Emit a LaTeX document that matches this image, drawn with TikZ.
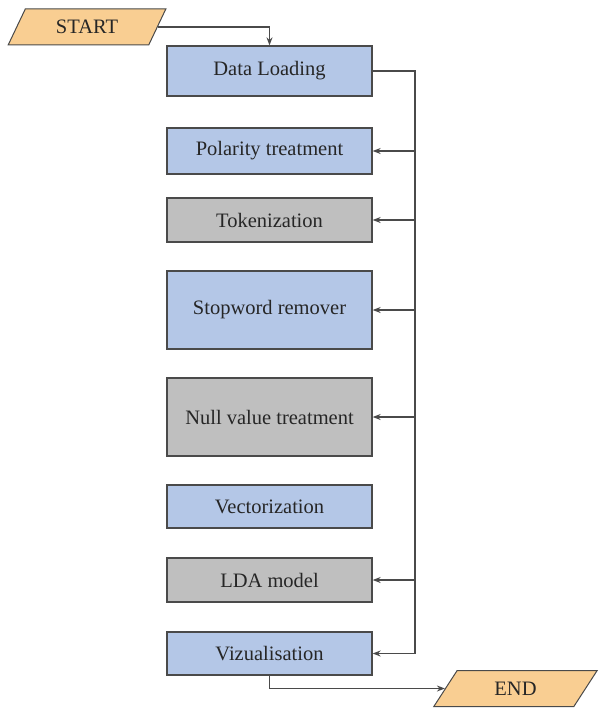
\documentclass[tikz,border=0pt]{standalone}
\usepackage{fontspec}
\setmainfont{Liberation Serif}
\usetikzlibrary{shapes.geometric,arrows.meta}
\definecolor{boxblue}{HTML}{B4C7E7}
\definecolor{boxgray}{HTML}{BFBFBF}
\definecolor{ioorange}{HTML}{F9CE92}
\definecolor{edge}{HTML}{4A4A4A}
\begin{document}
\begin{tikzpicture}[x=1pt,y=-1pt,font=\fontsize{20.5}{24}\selectfont,
  blk/.style={draw=edge,line width=1.3pt,minimum width=205pt,inner sep=0pt,text=black!85},
  bluebox/.style={blk,fill=boxblue},
  graybox/.style={blk,fill=boxgray},
  io/.style={trapezium,trapezium left angle=58,trapezium right angle=122,trapezium stretches=true,
    draw=edge,line width=1pt,fill=ioorange,minimum height=36pt,inner sep=0pt,text=black!85},
  link/.style={draw=edge,line width=1.3pt},
  arr/.style={link,-{Stealth[length=8pt,width=6pt]}}]
\useasboundingbox (0,0) rectangle (598,709);
\node[io,minimum width=158pt] (start) at (87,27) {START};
\node[bluebox,minimum height=50pt] (dl) at (269.5,71) {Data Loading};
\node[bluebox,minimum height=46pt] (pol) at (269.5,151) {Polarity treatment};
\node[graybox,minimum height=44pt] (tok) at (269.5,220) {Tokenization};
\node[bluebox,minimum height=78pt] (stop) at (269.5,310) {Stopword remover};
\node[graybox,minimum height=78pt] (null) at (269.5,417) {Null value treatment};
\node[bluebox,minimum height=43pt] (vec) at (269.5,506.5) {Vectorization};
\node[graybox,minimum height=44pt] (lda) at (269.5,580) {LDA model};
\node[bluebox,minimum height=43pt] (viz) at (269.5,653.5) {Vizualisation};
\node[io,minimum width=164pt] (end) at (515.5,688.5) {END};
\coordinate (bus) at (415,0);
\draw[arr] (start.east) -| (dl.north);
\draw[arr] (dl.east) -- (dl.east -| bus) -- (viz.east -| bus) -- (viz.east);
\foreach \n in {pol,tok,stop,null,lda}
  \draw[arr] (\n.east -| bus) -- (\n.east);
\draw[arr] (viz.south) |- (end.west);
\end{tikzpicture}
\end{document}
